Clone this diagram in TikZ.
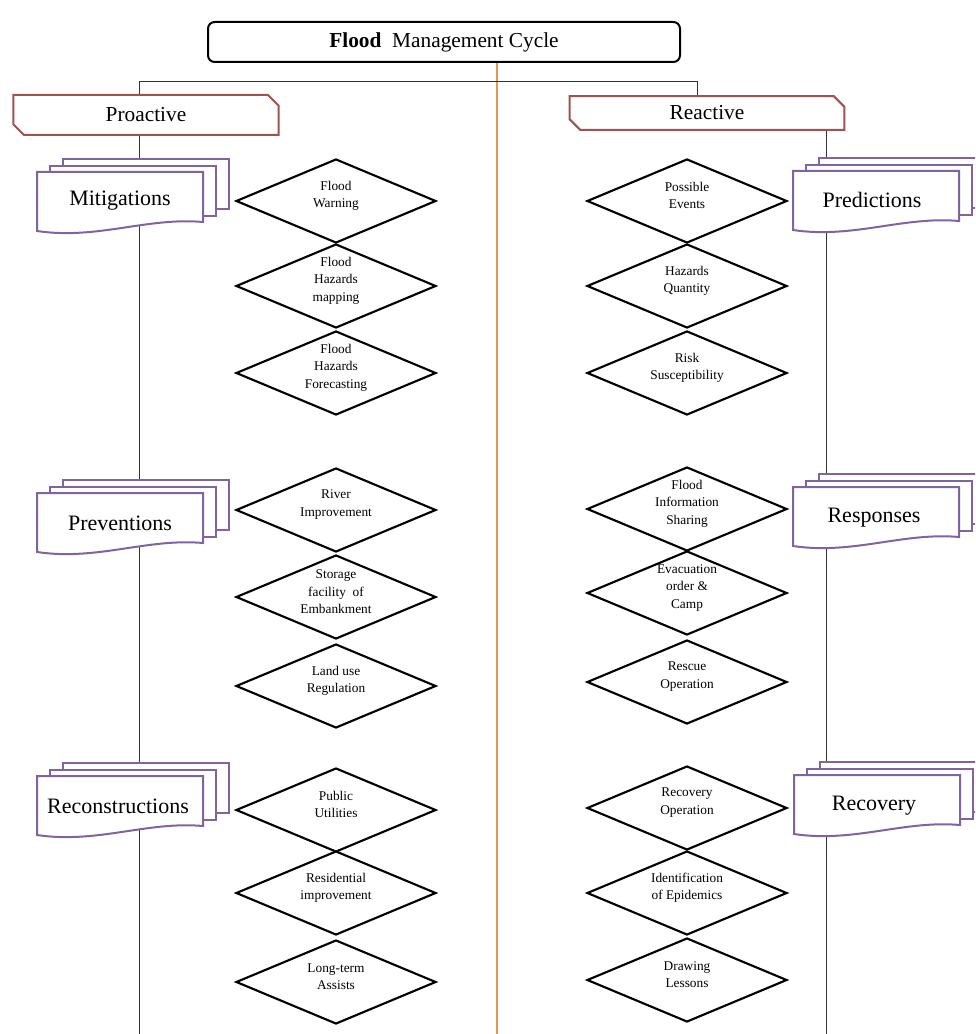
\documentclass[tikz,border=0pt]{standalone}
\usepackage{fontspec}
\setmainfont{Liberation Serif}
\usetikzlibrary{shapes.geometric,shapes.misc}
\definecolor{cyclered}{RGB}{160,82,78}
\definecolor{cyclepurple}{RGB}{128,100,162}
\definecolor{cycleorange}{RGB}{230,150,75}
\pgfdeclarelayer{background}
\pgfsetlayers{background,main}

% three stacked sheets, #1,#2 = upper left corner of the front sheet
\newcommand{\docstack}[2]{%
	\draw[docsheet] ({#1+26},{#2-13}) rectangle ({#1+192},{#2+37});
	\draw[docsheet] ({#1+13},{#2-6}) rectangle ({#1+179},{#2+44});
	\draw[docsheet] (#1,#2) -- ({#1+166},#2) -- ({#1+166},{#2+50})
		.. controls ({#1+110},{#2+45}) and ({#1+60},{#2+68}) .. (#1,{#2+59}) -- cycle;
}

\begin{document}
\begin{tikzpicture}[x=0.75pt,y=-0.75pt,
	conn/.style={line width=0.6pt,black!80},
	flowline/.style={line width=1.5pt,cycleorange},
	titlebox/.style={draw,rounded corners=5pt,line width=1.5pt,fill=white,
		minimum width=354pt,minimum height=30pt,font=\fontsize{16}{19}\selectfont},
	phasebox/.style={chamfered rectangle,chamfered rectangle corners={north east,south west},
		chamfered rectangle sep=4pt,draw=cyclered,line width=1.5pt,fill=white,
		font=\fontsize{16}{19}\selectfont},
	docsheet/.style={draw=cyclepurple,line width=1.5pt,fill=white},
	doctext/.style={font=\fontsize{16.5}{20}\selectfont},
	task/.style={diamond,draw,line width=1.6pt,fill=white,minimum width=150pt,
		minimum height=63pt,inner sep=0pt},
	tasktext/.style={align=center,yshift=4pt,font=\fontsize{10}{13}\selectfont}]
	\useasboundingbox (0,0) rectangle (975,1034);
	\clip (0,0) rectangle (975,1034);

	\coordinate (lfork) at (139,81);
	\coordinate (rfork) at (697,81);
	\coordinate (lend) at (139,1034);
	\coordinate (rend) at (826,1034);
	\coordinate (oend) at (497,1034);

	\node[titlebox] (title) at (444,42) {\textbf{Flood}~ Management Cycle};
	\node[phasebox,minimum width=199pt,minimum height=30pt] (proactive) at (146,115) {Proactive};
	\node[phasebox,minimum width=206pt,minimum height=25pt] (reactive) at (707,113) {Reactive};

	% proactive side
	\docstack{37}{172}
	\node[doctext] (mitig) at (120,201) {Mitigations};
	\docstack{37}{493}
	\node[doctext] (prevent) at (120,523) {Preventions};
	\docstack{37}{776}
	\node[doctext] (recon) at (118,806) {Reconstructions};

	\node[task,label={[tasktext]center:Flood\\Warning}] (fwarn) at (336,201) {};
	\node[task,label={[tasktext]center:Flood\\Hazards\\mapping}] (fmap) at (336,286) {};
	\node[task,label={[tasktext]center:Flood\\Hazards\\Forecasting}] (fcast) at (336,373) {};
	\node[task,label={[tasktext]center:River\\Improvement}] (river) at (336,510) {};
	\node[task,label={[tasktext]center:Storage\\facility~ of\\Embankment}] (storage) at (336,597) {};
	\node[task,label={[tasktext]center:Land use\\Regulation}] (landuse) at (336,686) {};
	\node[task,label={[tasktext]center:Public\\Utilities}] (public) at (336,810) {};
	\node[task,label={[tasktext]center:Residential\\improvement}] (resid) at (336,893) {};
	\node[task,label={[tasktext]center:Long-term\\Assists}] (longterm) at (336,982) {};

	% reactive side
	\docstack{793}{171}
	\node[doctext] (predict) at (872,200) {Predictions};
	\docstack{793}{487}
	\node[doctext] (respond) at (874,518) {Responses};
	\docstack{794}{775}
	\node[doctext] (recover) at (874,806) {Recovery};

	\node[task,label={[tasktext]center:Possible\\Events}] (possible) at (687,201) {};
	\node[task,label={[tasktext]center:Hazards\\Quantity}] (hazq) at (687,286) {};
	\node[task,label={[tasktext]center:Risk\\Susceptibility}] (risk) at (687,373) {};
	\node[task,label={[tasktext]center:Flood\\Information\\Sharing}] (info) at (687,509) {};
	\node[task,label={[tasktext]center:Evacuation\\order \&\\Camp}] (evac) at (687,593) {};
	\node[task,label={[tasktext]center:Rescue\\Operation}] (rescue) at (687,682) {};
	\node[task,label={[tasktext]center:Recovery\\Operation}] (recop) at (687,808) {};
	\node[task,label={[tasktext]center:Identification\\of Epidemics}] (epid) at (687,893) {};
	\node[task,label={[tasktext]center:Drawing\\Lessons}] (lessons) at (687,980) {};

	\begin{pgfonlayer}{background}
		\draw[flowline] (title.south -| oend) -- (oend);
		\draw[conn] (lfork) -- (rfork);
		\draw[conn] (lfork) -- (lfork |- proactive.north);
		\draw[conn] (rfork) -- (rfork |- reactive.north);
		\draw[conn] (proactive.south -| lend) -- (lend);
		\draw[conn] (reactive.south -| rend) -- (rend);
	\end{pgfonlayer}
\end{tikzpicture}
\end{document}
